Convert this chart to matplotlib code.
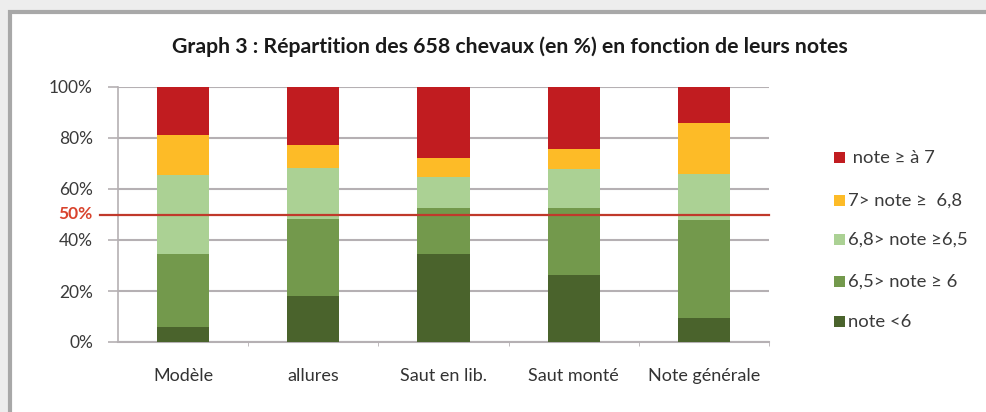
import matplotlib
matplotlib.use("Agg")
import matplotlib.pyplot as plt
from matplotlib.patches import Rectangle
from matplotlib.lines import Line2D
import matplotlib.transforms as mtransforms
import numpy as np

plt.rcParams["font.family"] = ["Lato", "DejaVu Sans"]

categories = ["Modèle", "allures", "Saut en lib.", "Saut monté", "Note générale"]
series_labels = ["note <6", "6,5> note \u2265 6", "6,8> note \u22656,5",
                 "7> note \u2265  6,8", " note \u2265 à 7"]
note_lt6 = [6.0, 18.0, 34.4, 26.2, 9.3]
note_6_65 = [28.4, 30.4, 18.2, 26.4, 38.4]
note_65_68 = [31.2, 20.0, 12.1, 15.4, 18.2]
note_68_7 = [15.4, 9.0, 7.4, 7.8, 20.1]
note_ge7 = [19.0, 22.6, 27.9, 24.2, 14.0]
series = [note_lt6, note_6_65, note_65_68, note_68_7, note_ge7]
colors = ["#4A632C", "#73994C", "#ABD194", "#FDBB27", "#C11C20"]
yticks = [0, 20, 40, 60, 80, 100]

fig = plt.figure(figsize=(9.87, 4.12), dpi=100)
fig.patch.set_facecolor("white")

# fond du scan + cadre gris
fig.patches.append(Rectangle((0, 0), 1, 1, transform=fig.transFigure,
                             facecolor="#EDEDED", edgecolor="none", zorder=-3))
fig.patches.append(Rectangle((10 / 987, -0.01), 1.0, 1 - 12 / 412 + 0.01,
                             transform=fig.transFigure, facecolor="white",
                             edgecolor="#A8A8A8", lw=3, zorder=-2))

ax = fig.add_axes([118 / 987, 1 - 342 / 412, (769 - 118) / 987, (342 - 87) / 412])
ax.set_zorder(2)
ax.set_facecolor("none")
x = np.arange(len(categories))
bottom = np.zeros(len(categories))
for vals, col in zip(series, colors):
    ax.bar(x, vals, width=0.4, bottom=bottom, color=col, zorder=3)
    bottom += np.array(vals)

ax.set_xlim(-0.5, len(categories) - 0.5)
ax.set_ylim(0, 100)
ax.set_yticks(yticks)
ax.set_yticklabels([f"{v}%" for v in yticks], fontsize=12.5, color="#3A3A3A")
ax.yaxis.grid(True, color="#B5B0B3", lw=1.5, zorder=0)
ax.tick_params(axis="y", length=7, width=1.2, color="#B5B0B3", pad=11)
ax.set_xticks(x)
ax.set_xticklabels(categories, fontsize=13, color="#333333")
ax.tick_params(axis="x", length=0, pad=19)
ax.set_xticks(np.arange(len(categories)) + 0.5, minor=True)
ax.tick_params(axis="x", which="minor", length=3, color="#B5B0B3")
for s in ["top", "right"]:
    ax.spines[s].set_visible(False)
ax.spines["left"].set_color("#B5B0B3")
ax.spines["left"].set_linewidth(1.2)
ax.spines["bottom"].set_color("#B5B0B3")
ax.spines["bottom"].set_linewidth(1.5)

# ligne des 50 %
trans = mtransforms.blended_transform_factory(ax.transAxes, ax.transData)
ax.add_line(Line2D([-18 / 651, 1.0], [50, 50], transform=trans, color="#C0392B",
                   lw=1.6, zorder=5, clip_on=False))
ax.text(-26 / 651, 50, "50%", transform=trans, ha="right", va="center",
        fontsize=12.5, color="#D9442E", fontweight="bold")

fig.text(510 / 987, 1 - 47 / 412, "Graph 3 : Répartition des 658 chevaux (en %) en fonction de leurs notes",
         ha="center", va="center", fontsize=15.3, fontweight="bold", color="#1A1A1A")

# légende
leg_y = [158, 201, 240, 282, 322]
for lab, col, yy in zip(series_labels[::-1], colors[::-1], leg_y):
    fig.patches.append(Rectangle((834 / 987, 1 - (yy + 5) / 412), 11 / 987, 11 / 412,
                                 transform=fig.transFigure, facecolor=col,
                                 edgecolor="none", zorder=3))
    fig.text(848 / 987, 1 - yy / 412, lab, ha="left", va="center",
             fontsize=13.3, color="#3A3A3A")

fig.savefig("out.png", dpi=100)
